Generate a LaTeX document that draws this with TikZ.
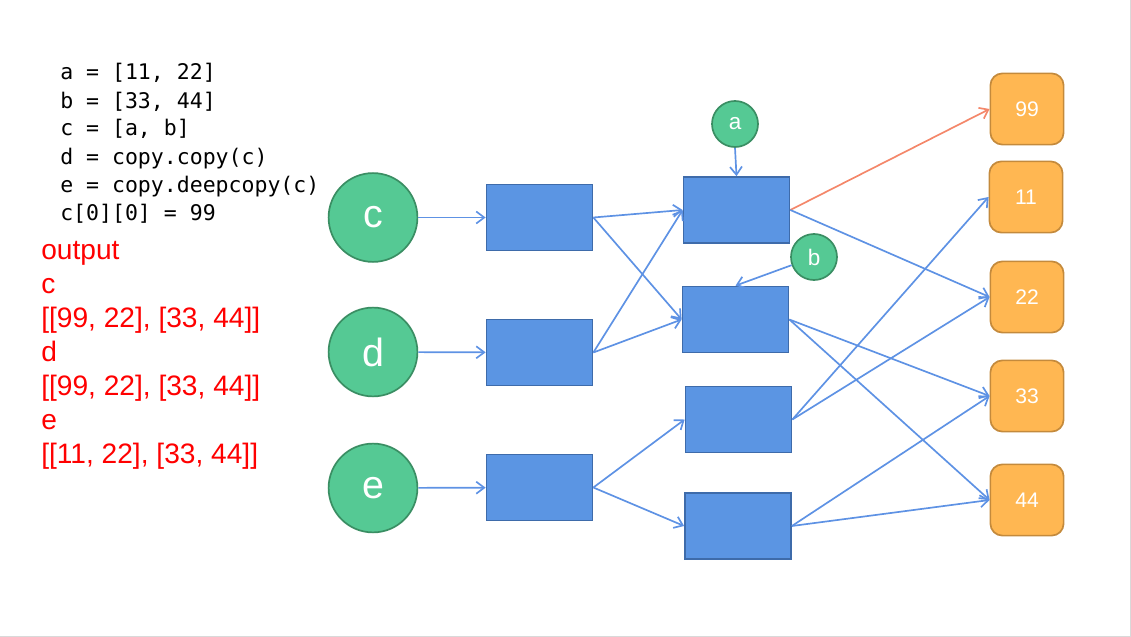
\documentclass[tikz,border=0pt]{standalone}
\usepackage{fontspec}
\setmainfont{Liberation Sans}
\setmonofont{DejaVu Sans Mono}
\usepackage{tikz}
\usetikzlibrary{positioning, arrows.meta}
\definecolor{Mint}{HTML}{55C994}
\definecolor{MintEdge}{HTML}{3A8E63}
\definecolor{Cobalt}{HTML}{5B95E3}
\definecolor{CobaltEdge}{HTML}{3E6BAA}
\definecolor{Wire}{HTML}{5E92E4}
\definecolor{Salmon}{HTML}{F4876A}
\definecolor{Amber}{HTML}{FFB752}
\definecolor{AmberEdge}{HTML}{C48A3C}
\definecolor{Frame}{HTML}{D9D9D9}

\begin{document}
\begin{tikzpicture}[
    x=0.025cm, y=-0.025cm,
    every node/.style={font=\sffamily},
    bigvar/.style={circle, draw=MintEdge, fill=Mint, line width=1.2pt, minimum size=2.22cm,
        text=white, font=\fontsize{28}{30}\selectfont},
    smallvar/.style={circle, draw=MintEdge, fill=Mint, line width=1.2pt, minimum size=1.15cm,
        text=white, font=\fontsize{16}{18}\selectfont},
    cell/.style={rectangle, draw=CobaltEdge, fill=Cobalt, line width=1.2pt,
        minimum width=2.65cm, minimum height=1.65cm},
    num/.style={rectangle, rounded corners=0.3cm, draw=AmberEdge, fill=Amber, line width=1.2pt,
        minimum width=1.83cm, minimum height=1.78cm, text=white, font=\fontsize{15}{17}\selectfont},
    link/.style={-{Straight Barb[length=2mm, width=3mm]}, Wire, line width=1.2pt}
]
\useasboundingbox (0,0) rectangle (1131,637);
\draw[Frame] (0,636) -- (1130,636) -- (1130,0);

% === CODE ===
\foreach \txt [count=\i] in {{a = [11, 22]}, {b = [33, 44]}, {c = [a, b]},
    {d = copy.copy(c)}, {e = copy.deepcopy(c)}, {c[0][0] = 99}}
    \node[anchor=base west, inner sep=0pt, font=\ttfamily\fontsize{15.3}{18}\selectfont]
        (code\i) at (60, 80+28*\i-28) {\txt};

% === OUTPUT ===
\foreach \txt [count=\i] in {output, c, {[[99, 22], [33, 44]]}, d,
    {[[99, 22], [33, 44]]}, e, {[[11, 22], [33, 44]]}}
    \node[anchor=base west, inner sep=0pt, text=red, font=\fontsize{20}{24}\selectfont]
        (out\i) at (41, 259+34*\i-34) {\txt};

% variables
\node[bigvar] (varc) at (373, 217.5) {c};
\node[bigvar] (vard) at (373, 352) {d};
\node[bigvar] (vare) at (373, 488) {e};

% outer lists
\node[cell] (refc) at (539.5, 217.5) {};
\node[cell] (refd) at (539.5, 352.5) {};
\node[cell] (refe) at (539.5, 487.5) {};

% inner lists
\node[cell] (lista) at (736.5, 210) {};
\node[cell] (listb) at (735.5, 319.5) {};
\node[cell] (copya) at (738.5, 419.5) {};
\node[cell] (copyb) at (738, 526) {};

\node[smallvar] (vara) at (735, 124) {a};
\node[smallvar] (varb) at (814, 257) {b};

% values
\node[num] (n99) at (1027, 109) {99};
\node[num] (n11) at (1026, 197) {11};
\node[num] (n22) at (1027, 297) {22};
\node[num] (n33) at (1027, 396) {33};
\node[num] (n44) at (1027, 500) {44};

% === REFERENCES ===
\draw[link] (varc) -- (refc);
\draw[link] (vard) -- (refd);
\draw[link] (vare) -- (refe);

\draw[link] (refc.east) -- (lista.west);
\draw[link] (refc.east) -- (listb.west);
\draw[link] (refd.east) -- (lista.west);
\draw[link] (refd.east) -- (listb.west);
\draw[link] (refe.east) -- (copya.west);
\draw[link] (refe.east) -- (copyb.west);

\draw[link] (vara.south) -- (lista.north);
\draw[link] (varb) -- (listb.north);

\draw[link, Salmon] (lista.east) -- (n99.west);
\draw[link] (lista.east) -- (n22.west);
\draw[link] (listb.east) -- (n33.west);
\draw[link] (listb.east) -- (n44.west);
\draw[link] (copya.east) -- (n11.west);
\draw[link] (copya.east) -- (n22.west);
\draw[link] (copyb.east) -- (n33.west);
\draw[link] (copyb.east) -- (n44.west);

\end{tikzpicture}
\end{document}
